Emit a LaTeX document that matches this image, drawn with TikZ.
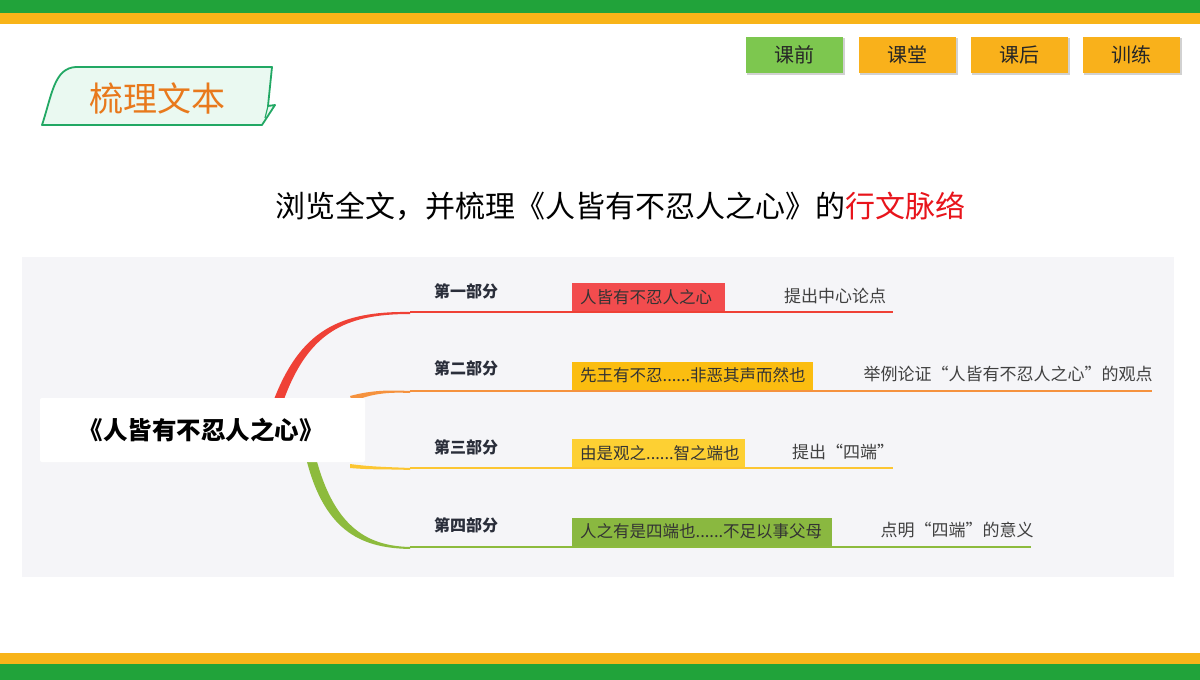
\documentclass[tikz,border=0pt]{standalone}
\usepackage{fontspec}
\setmainfont{Noto Sans CJK SC}
\definecolor{topgreen}{HTML}{21A33A}
\definecolor{toporange}{HTML}{F8B419}
\definecolor{tabfill}{HTML}{EAF9F1}
\definecolor{tabborder}{HTML}{22A864}
\definecolor{taborange}{HTML}{E8791C}
\definecolor{btngreen}{HTML}{7DC74F}
\definecolor{btnorange}{HTML}{F9B11B}
\definecolor{panel}{HTML}{F5F5F8}
\definecolor{redline}{HTML}{EF4136}
\definecolor{redbox}{HTML}{F24C4E}
\definecolor{orangeline}{HTML}{F5923E}
\definecolor{goldbox}{HTML}{FBBD10}
\definecolor{yellowline}{HTML}{FCC632}
\definecolor{yellowbox}{HTML}{FDD033}
\definecolor{greenline}{HTML}{8DBB3D}
\definecolor{greenbox}{HTML}{8AB840}
\definecolor{labelc}{HTML}{2A2E3A}
\definecolor{descc}{HTML}{404040}
\definecolor{titlered}{HTML}{E8141B}
\tikzset{
  btn/.style={minimum width=97pt, minimum height=36pt, inner sep=0pt, font=\fontsize{20}{24}\selectfont, text=black!85},
  part/.style={inner sep=0pt, font=\bfseries\fontsize{16}{19}\selectfont, text=labelc},
  tag/.style={inner sep=0pt, minimum height=28pt, text=black!80, font=\fontsize{16.5}{19}\selectfont, anchor=west},
  tagtext/.style={inner sep=0pt, text=black!80, font=\fontsize{16.5}{19}\selectfont, anchor=west},
  desc/.style={inner sep=0pt, font=\fontsize{17}{20}\selectfont, text=descc},
}
\begin{document}
\begin{tikzpicture}[x=1pt,y=-1pt]
\useasboundingbox (0,0) rectangle (1200,680);
\fill[white] (0,0) rectangle (1200,680);
% top and bottom bars
\fill[topgreen] (0,0) rectangle (1200,13);
\fill[toporange] (0,13) rectangle (1200,24);
\fill[toporange] (0,653) rectangle (1200,664);
\fill[topgreen] (0,664) rectangle (1200,680);
% tab
\draw[tabborder, line width=1.8pt, fill=tabfill, line join=round]
  (42,125) .. controls (52,95) and (54,68) .. (76,67) -- (272,67)
  -- (268,106) -- (275,105) -- (262,125) -- cycle;
\draw[tabborder, line width=1.2pt] (268,106) -- (265,118);
\node[font=\fontsize{34}{38}\selectfont, text=taborange] (tab) at (157,98) {梳理文本};
% buttons
\foreach \x/\c/\t/\n in {794.5/btngreen/课前/b1, 907.5/btnorange/课堂/b2, 1019/btnorange/课后/b3, 1131/btnorange/训练/b4}{
  \fill[black, opacity=0.18] (\x-47.5,38) rectangle (\x+50.5,74.5);
  \node[btn, fill=\c] (\n) at (\x,54.5) {\t};
}
% title
\node[font=\fontsize{30}{35}\selectfont, anchor=center] (title) at (620,206) {浏览全文，并梳理《人皆有不忍人之心》的\textcolor{titlered}{行文脉络}};
% panel
\fill[panel] (22,257) rectangle (1174,577);
% branch coordinates
\coordinate (r0) at (410,312); \coordinate (r1) at (893,312);
\coordinate (o0) at (410,391); \coordinate (o1) at (1152,391);
\coordinate (y0) at (410,468); \coordinate (y1) at (893,468);
\coordinate (g0) at (410,547); \coordinate (g1) at (1031,547);
% curves
\fill[redline] (273,402) .. controls (300,330) and (340,311) .. (r0) -- ++(0,2) .. controls (345,314) and (308,332) .. (283,402) -- cycle;
\draw[redline, line width=2pt] (r0) -- (r1);
\fill[orangeline] (350,396) .. controls (372,390) and (390,390) .. (o0) -- ++(0,2) .. controls (390,392) and (372,393) .. (352,402) -- cycle;
\draw[orangeline, line width=2pt] (o0) -- (o1);
\fill[yellowline] (350,464) .. controls (372,467) and (390,467) .. (y0) -- ++(0,2) .. controls (390,469) and (372,470) .. (350,468) -- cycle;
\draw[yellowline, line width=2pt] (y0) -- (y1);
\fill[greenline] (316,458) .. controls (335,530) and (370,546) .. (g0) -- ++(0,2) .. controls (365,548) and (325,535) .. (306,458) -- cycle;
\draw[greenline, line width=2pt] (g0) -- (g1);
% root
\node[fill=white, minimum width=325pt, minimum height=64pt, inner sep=0pt, rounded corners=2pt] (root) at (202.5,430) {};
\node[font=\bfseries\fontsize{24.5}{28}\selectfont, inner sep=0pt] (roottext) at (201,430) {《人皆有不忍人之心》};
% parts
\node[part] (p1) at (466,291) {第一部分};
\node[part] (p2) at (466,368) {第二部分};
\node[part] (p3) at (466,447) {第三部分};
\node[part] (p4) at (466,525) {第四部分};
% tags
\node[tag, fill=redbox, minimum width=153pt] (t1) at (572,297) {};
\node[tagtext] at (580,297) {人皆有不忍人之心};
\node[tag, fill=goldbox, minimum width=241pt] (t2) at (572,375.5) {};
\node[tagtext] at (580,375.5) {先王有不忍......非恶其声而然也};
\node[tag, fill=yellowbox, minimum width=173pt] (t3) at (572,453) {};
\node[tagtext] at (580,453) {由是观之......智之端也};
\node[tag, fill=greenbox, minimum width=260pt] (t4) at (572,531.5) {};
\node[tagtext] at (580,531.5) {人之有是四端也......不足以事父母};
% descriptions
\node[desc] (d1) at (835,296) {提出中心论点};
\node[desc] (d2) at (1008,374) {举例论证“人皆有不忍人之心”的观点};
\node[desc] (d3) at (843,452) {提出“四端”};
\node[desc] (d4) at (957,530) {点明“四端”的意义};
\end{tikzpicture}
\end{document}
